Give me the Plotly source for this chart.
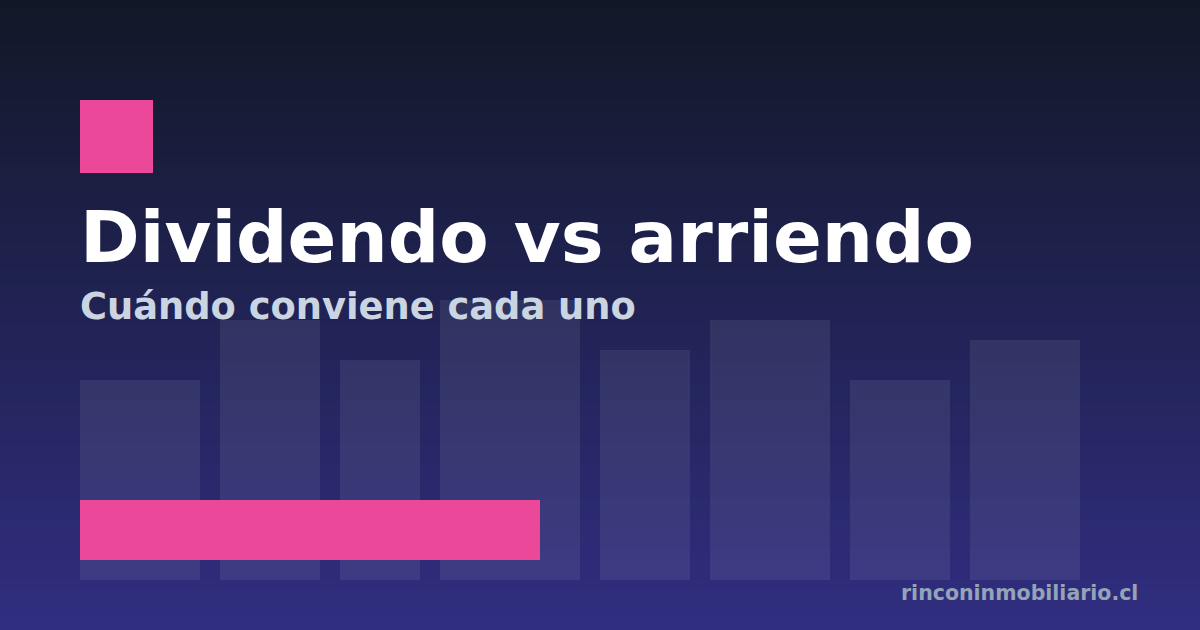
import plotly.graph_objects as go

# ---- data ----
bar_heights = [200, 260, 220, 280, 230, 260, 200, 240]
bar_widths = [120, 100, 80, 140, 90, 120, 100, 110]
accent_value = [460]
title_text = "Dividendo vs arriendo"
subtitle_text = "Cuándo conviene cada uno"
site_text = "rinconinmobiliario.cl"

W, H = 1200, 630
LEFT = 80
GAP = 20
BASE = 50  # bottom of bars (630 - 580)

# bar centers from widths
centers = []
pos = LEFT
for w in bar_widths:
    centers.append(pos + w / 2)
    pos += w + GAP

fig = go.Figure()

# background bars
fig.add_trace(go.Bar(
    x=centers, y=bar_heights, width=bar_widths, base=BASE,
    marker=dict(color="rgba(255,255,255,0.075)", line=dict(width=0)),
    hoverinfo="skip", showlegend=False,
))

# accent bar (horizontal)
fig.add_trace(go.Bar(
    x=accent_value, y=[100], base=LEFT, width=[60], orientation="h",
    marker=dict(color="#ec4899", line=dict(width=0)),
    hoverinfo="skip", showlegend=False,
))

# gradient background via thin rectangles
def lerp(c1, c2, t):
    return tuple(round(a + (b - a) * t) for a, b in zip(c1, c2))

top = (0x11, 0x18, 0x27)
bot = (0x31, 0x2e, 0x81)
shapes = []
N = 126
step = H / N
for i in range(N):
    t = (i + 0.5) / N
    c = lerp(top, bot, t)
    y0 = H - i * step
    shapes.append(dict(type="rect", xref="x", yref="y", x0=0, x1=W,
                       y0=y0 - step - 0.5, y1=y0 + 0.5, layer="below",
                       line=dict(width=0), fillcolor="rgb(%d,%d,%d)" % c))

# pink square
shapes.append(dict(type="rect", xref="x", yref="y", x0=80, x1=153, y0=H - 173, y1=H - 100,
                   line=dict(width=0), fillcolor="#ec4899", layer="above"))

fig.update_layout(
    width=W, height=H,
    margin=dict(l=0, r=0, t=0, b=0),
    paper_bgcolor="rgb(17,24,39)", plot_bgcolor="rgba(0,0,0,0)",
    xaxis=dict(range=[0, W], visible=False, fixedrange=True),
    yaxis=dict(range=[0, H], visible=False, fixedrange=True),
    shapes=shapes,
    barmode="overlay",
    bargap=0,
    annotations=[
        dict(text=title_text, x=LEFT - 2, y=H - 237, xref="x", yref="y",
             xanchor="left", yanchor="middle", showarrow=False,
             font=dict(family="DejaVu Sans", size=72, color="#ffffff", weight="bold")),
        dict(text=subtitle_text, x=LEFT - 2, y=H - 306, xref="x", yref="y",
             xanchor="left", yanchor="middle", showarrow=False,
             font=dict(family="DejaVu Sans", size=36.8, color="#cbd5e1", weight="bold")),
        dict(text=site_text, x=1140, y=H - 593, xref="x", yref="y",
             xanchor="right", yanchor="middle", showarrow=False,
             font=dict(family="DejaVu Sans", size=20.5, color="#94a3b8", weight="bold")),
    ],
)

fig.write_html("out.html", config={"displayModeBar": False},
               post_script="document.body.style.margin='0';document.body.style.overflow='hidden';")
